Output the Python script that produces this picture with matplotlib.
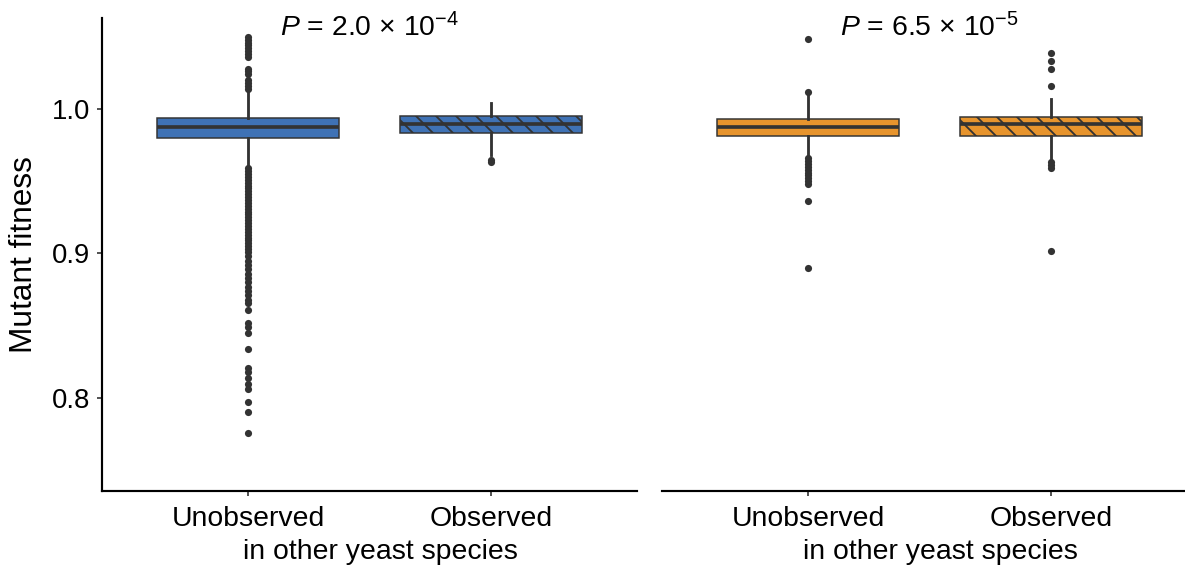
import matplotlib
matplotlib.use("Agg")
import matplotlib.pyplot as plt

plt.rcParams["font.family"] = ["Liberation Sans", "DejaVu Sans"]
plt.rcParams["mathtext.fontset"] = "custom"
plt.rcParams["mathtext.rm"] = "Liberation Sans"
plt.rcParams["mathtext.it"] = "Liberation Sans:italic"
plt.rcParams["hatch.color"] = "#333333"
plt.rcParams["hatch.linewidth"] = 1.1

# categories on the x axis of each panel
categories = ["Unobserved", "Observed"]

# box summaries (q1, median, q3, whisker low, whisker high) per panel
left_q1 = [0.9797, 0.9836]
left_med = [0.9873, 0.9896]
left_q3 = [0.9938, 0.9952]
left_whislo = [0.9605, 0.9680]
left_whishi = [1.0125, 1.0044]

right_q1 = [0.9815, 0.9815]
right_med = [0.9873, 0.9896]
right_q3 = [0.9931, 0.9947]
right_whislo = [0.9680, 0.9655]
right_whishi = [1.0105, 1.0067]

# outlying mutants
left_unobs_fliers = [
    1.050, 1.048, 1.046, 1.044, 1.042, 1.040, 1.038, 1.036,
    1.028, 1.026, 1.024, 1.020, 1.018, 1.016, 1.014,
    0.959, 0.957, 0.955, 0.953, 0.951, 0.949, 0.947, 0.945, 0.943, 0.941,
    0.939, 0.937, 0.935, 0.933, 0.931, 0.929, 0.927, 0.925, 0.923, 0.921,
    0.919, 0.917, 0.915, 0.913, 0.911, 0.909, 0.907, 0.905, 0.903, 0.901,
    0.898, 0.895, 0.892, 0.889, 0.886, 0.883, 0.880, 0.877, 0.874, 0.871,
    0.868, 0.866, 0.861, 0.852, 0.849, 0.845, 0.834, 0.821, 0.818, 0.814,
    0.810, 0.806, 0.797, 0.790, 0.776,
]
left_obs_fliers = [0.9645, 0.9635]
right_unobs_fliers = [
    1.0484, 1.0115,
    0.966, 0.964, 0.962, 0.960, 0.958, 0.956, 0.954, 0.952, 0.950, 0.948,
    0.936, 0.890,
]
right_obs_fliers = [1.039, 1.0334, 1.0275, 1.016, 0.9635, 0.961, 0.9595, 0.902]

p_labels = [r"$\mathit{P}$ = 2.0 × 10$^{\mathregular{-4}}$",
            r"$\mathit{P}$ = 6.5 × 10$^{\mathregular{-5}}$"]

blue = "#3f72b5"
orange = "#e7942d"
dark = "#333333"


def make_stats(q1, med, q3, lo, hi, fliers):
    return [
        dict(q1=q1[i], med=med[i], q3=q3[i], whislo=lo[i], whishi=hi[i],
             fliers=fliers[i], label=categories[i])
        for i in range(len(categories))
    ]


def draw_panel(ax, stats, color, p_text, show_y):
    bp = ax.bxp(
        stats,
        positions=[1, 2],
        widths=0.75,
        patch_artist=True,
        showcaps=False,
        boxprops=dict(facecolor=color, edgecolor=dark, linewidth=0.9),
        medianprops=dict(color=dark, linewidth=2.2, solid_capstyle="butt"),
        whiskerprops=dict(color=dark, linewidth=1.7),
        flierprops=dict(marker="o", markerfacecolor=dark, markeredgecolor="none",
                        markersize=4.3),
    )
    # striped fill for the observed group
    bp["boxes"][1].set_hatch("\\\\")

    ax.set_xlim(0.4, 2.6)
    ax.set_ylim(0.7356, 1.063)
    ax.set_xticks([1, 2])
    ax.set_xticklabels(categories, fontsize=17)
    ax.tick_params(axis="x", length=3, width=1.0, pad=6, color=dark)
    ax.set_xlabel("in other yeast species", fontsize=17)
    ax.xaxis.set_label_coords(0.52, -0.101)

    for side in ["top", "right"]:
        ax.spines[side].set_visible(False)
    ax.spines["bottom"].set_linewidth(1.3)
    ax.spines["left"].set_linewidth(1.3)

    if show_y:
        ax.set_yticks([0.8, 0.9, 1.0])
        ax.set_yticklabels(["0.8", "0.9", "1.0"], fontsize=16.5)
        ax.tick_params(axis="y", length=3, width=1.0, pad=4, color=dark)
        ax.set_ylabel("Mutant fitness", fontsize=19, labelpad=8)
    else:
        ax.spines["left"].set_visible(False)
        ax.tick_params(axis="y", left=False, labelleft=False)

    ax.text(1.5, 1.056, p_text, ha="center", va="center", fontsize=17)


fig = plt.figure(figsize=(1185 / 120, 581 / 120), dpi=120)
ax1 = fig.add_axes([102 / 1185, 90 / 581, 535 / 1185, 473 / 581])
ax2 = fig.add_axes([662 / 1185, 90 / 581, 535 / 1185, 473 / 581])

left_stats = make_stats(left_q1, left_med, left_q3, left_whislo, left_whishi,
                        [left_unobs_fliers, left_obs_fliers])
right_stats = make_stats(right_q1, right_med, right_q3, right_whislo, right_whishi,
                         [right_unobs_fliers, right_obs_fliers])

draw_panel(ax1, left_stats, blue, p_labels[0], True)
draw_panel(ax2, right_stats, orange, p_labels[1], False)

fig.savefig("out.png", dpi=120)
